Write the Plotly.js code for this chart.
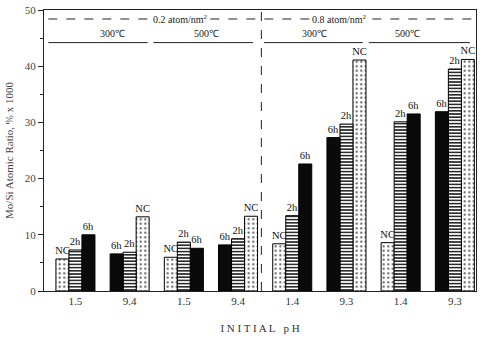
<!DOCTYPE html>
<html><head><meta charset="utf-8">
<script src="https://cdn.plot.ly/plotly-3.0.1.min.js"></script>
<style>html,body{margin:0;padding:0;background:#fff}</style>
</head><body><div id="chart" style="width:483px;height:346px"></div>
<script>
// Group tick labels (initial pH)
const phLabels = ['1.5', '9.4', '1.5', '9.4', '1.4', '9.3', '1.4', '9.3'];
// Bar order inside each group: false = NC,2h,6h ; true = 6h,2h,NC
const reversedOrder = [false, true, false, true, false, true, false, true];
// Mo/Si atomic ratio, % x 1000
const valuesNC = [5.7, 13.2, 6.0, 13.3, 8.4, 41.1, 8.6, 41.2];
const values2h = [7.3, 6.9, 8.7, 9.3, 13.4, 29.7, 30.1, 39.5];
const values6h = [10.0, 6.6, 7.6, 8.2, 22.6, 27.3, 31.5, 31.9];
const seriesNames = ['NC', '2h', '6h'];

const groupIdx = phLabels.map((_, i) => i);
const W = 0.24;
const serif = 'Liberation Serif, Times New Roman, serif';

function slotOffsets(seriesPos) {
  return reversedOrder.map(r => {
    const k = r ? 2 - seriesPos : seriesPos;
    return -1.5 * W + k * W;
  });
}

const styles = [
  {pattern: {shape: '.', bgcolor: '#ffffff', fgcolor: '#555', size: 4.5, solidity: 0.18}, color: '#ffffff'},
  {pattern: {shape: '-', bgcolor: '#ffffff', fgcolor: '#111', size: 3.2, solidity: 0.45}, color: '#ffffff'},
  {pattern: {shape: ''}, color: '#0a0a0a'}
];
const allVals = [valuesNC, values2h, values6h];

const traces = allVals.map((vals, s) => ({
  type: 'bar',
  x: groupIdx,
  y: vals,
  width: W,
  offset: slotOffsets(s),
  name: seriesNames[s],
  text: vals.map(() => seriesNames[s]),
  textposition: 'outside',
  constraintext: 'none',
  cliponaxis: false,
  textfont: {family: serif, size: 10.5, color: '#111'},
  marker: {color: styles[s].color, pattern: styles[s].pattern, line: {color: '#000', width: 1}},
  hoverinfo: 'skip'
}));

const yDash = 48.4, yTemp = 44.2;
const shapes = [
  {type: 'line', xref: 'x', yref: 'paper', x0: 3.43, x1: 3.43, y0: 0, y1: 1, line: {color: '#222', width: 1, dash: 'dash'}},
  {type: 'line', xref: 'paper', yref: 'y', x0: 0.01, x1: 0.99, y0: yDash, y1: yDash, line: {color: '#222', width: 1, dash: 'dash'}},
  {type: 'line', xref: 'paper', yref: 'y', x0: 0.01, x1: 0.24, y0: yTemp, y1: yTemp, line: {color: '#222', width: 1}},
  {type: 'line', xref: 'paper', yref: 'y', x0: 0.253, x1: 0.484, y0: yTemp, y1: yTemp, line: {color: '#222', width: 1}},
  {type: 'line', xref: 'paper', yref: 'y', x0: 0.509, x1: 0.738, y0: yTemp, y1: yTemp, line: {color: '#222', width: 1}},
  {type: 'line', xref: 'paper', yref: 'y', x0: 0.752, x1: 0.986, y0: yTemp, y1: yTemp, line: {color: '#222', width: 1}}
];

const annFont = {family: serif, size: 10, color: '#222'};
const annotations = [
  {xref: 'paper', yref: 'y', x: 0.251, y: yDash, text: '0.2 atom/nm<sup>2</sup>', showarrow: false, bgcolor: '#fff', font: annFont, borderpad: 0},
  {xref: 'paper', yref: 'y', x: 0.749, y: yDash, text: '0.8 atom/nm<sup>2</sup>', showarrow: false, bgcolor: '#fff', font: annFont, borderpad: 0},
  {xref: 'paper', yref: 'y', x: 0.125, y: 45.8, text: '300℃', showarrow: false, font: annFont},
  {xref: 'paper', yref: 'y', x: 0.375, y: 45.8, text: '500℃', showarrow: false, font: annFont},
  {xref: 'paper', yref: 'y', x: 0.625, y: 45.8, text: '300℃', showarrow: false, font: annFont},
  {xref: 'paper', yref: 'y', x: 0.875, y: 45.8, text: '500℃', showarrow: false, font: annFont}
];

const layout = {
  width: 483, height: 346,
  margin: {l: 44, r: 7, t: 10, b: 55},
  paper_bgcolor: '#fff', plot_bgcolor: '#fff',
  showlegend: false,
  barmode: 'overlay',
  xaxis: {
    range: [-0.58, 7.39], tickvals: groupIdx, ticktext: phLabels,
    showline: true, linecolor: '#222', linewidth: 1, mirror: true,
    ticks: '', showgrid: false, zeroline: false,
    tickfont: {family: serif, size: 11, color: '#333'},
    title: {text: 'I N I T I A L   p H', font: {family: serif, size: 11, color: '#333'}, standoff: 18}
  },
  yaxis: {
    range: [0, 50], dtick: 10,
    showline: true, linecolor: '#222', linewidth: 1, mirror: true,
    ticks: 'outside', ticklen: 5, tickcolor: '#222',
    minor: {dtick: 5, ticks: 'outside', ticklen: 3, tickcolor: '#222'},
    showgrid: false, zeroline: false,
    tickfont: {family: serif, size: 11, color: '#444'},
    title: {text: 'Mo/Si Atomic Ratio, % x 1000', font: {family: serif, size: 11, color: '#444'}, standoff: 8}
  },
  shapes: shapes,
  annotations: annotations
};

Plotly.newPlot('chart', traces, layout, {staticPlot: true, displayModeBar: false});
</script>
</body></html>
